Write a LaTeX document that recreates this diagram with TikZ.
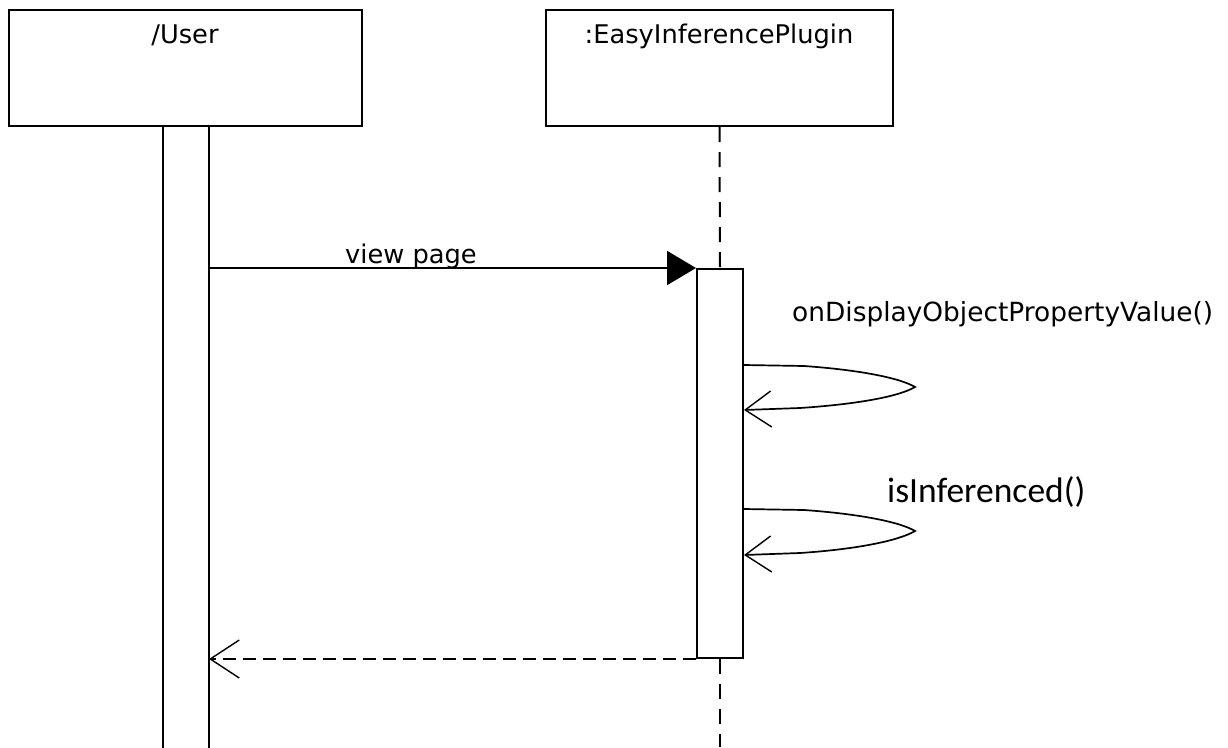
\documentclass[tikz,border=0pt]{standalone}
\usepackage{fontspec}
\setmainfont{DejaVu Sans}
\newfontfamily\calibrifont{Carlito}
\usetikzlibrary{arrows.meta}

\tikzset{
  objbox/.style={draw, line width=2pt, rectangle, inner sep=0pt},
  actbar/.style={draw, line width=2pt, fill=white},
  lifeline/.style={line width=2pt, dash pattern=on 15pt off 10pt},
  callmsg/.style={line width=2pt, -{Triangle[length=29pt,width=34pt]}},
  selfmsg/.style={line width=1.7pt, -{Straight Barb[length=26pt,width=36pt,line width=1.4pt]}},
  replymsg/.style={line width=2pt, dash pattern=on 13pt off 7pt, -{Straight Barb[length=29pt,width=38pt,line width=1.4pt]}},
  objname/.style={anchor=base, inner sep=0pt, font=\fontsize{25.7}{30}\selectfont},
  msglabel/.style={anchor=base west, inner sep=0pt, font=\fontsize{25.7}{30}\selectfont},
}

\begin{document}
\begin{tikzpicture}[x=1pt, y=-1pt]
  \useasboundingbox (0,0) rectangle (1228,747);
  \fill[white] (0,0) rectangle (1228,747);

  % lower edge of the page
  \coordinate (bottom) at (0,747);

  % participant boxes
  \node[objbox, minimum width=353pt, minimum height=116pt] (user) at (185.5,68) {};
  \node[objname] (username) at (185,43) {/User};
  \node[objbox, minimum width=347pt, minimum height=116pt] (plug) at (719.5,68) {};
  \node[objname] (plugname) at (719,43) {:EasyInferencePlugin};

  % lifeline of the plugin
  \coordinate (plugact) at (720,269);
  \draw[lifeline] (plug.south) -- (plugact);

  % activation bars
  \draw[actbar] (163,126) rectangle (209,752);
  \coordinate (userbar) at (209,126);
  \node[draw, line width=2pt, fill=white, inner sep=0pt, minimum width=46pt, minimum height=389pt] (plugbar) at (720,463.5) {};
  \draw[lifeline] (plugbar.south) -- (plugbar.south |- bottom);

  % view page
  \draw[callmsg] (userbar |- plugbar.north west) -- (plugbar.north west);
  \node[msglabel] (viewlbl) at (345,263) {view page};

  % self call: onDisplayObjectPropertyValue()
  \node[msglabel, font=\fontsize{26.4}{30}\selectfont] (displbl) at (792,321) {onDisplayObjectPropertyValue()};
  \draw[selfmsg] ([yshift=-97pt]plugbar.north east)
    -- ++(60,1) .. controls (860,370) and (900,378) .. (915,387)
    .. controls (900,396) and (860,404) .. (800,408)
    -- ([yshift=-142pt]plugbar.north east);

  % self call: isInferenced()
  \node[anchor=base west, inner sep=0pt, font=\calibrifont\fontsize{35.5}{40}\selectfont] (inflbl) at (887,502) {isInferenced()};
  \draw[selfmsg] ([yshift=-241pt]plugbar.north east)
    -- ++(60,1) .. controls (860,514) and (900,522) .. (915,531)
    .. controls (900,540) and (860,549) .. (800,553)
    -- ([yshift=-287pt]plugbar.north east);

  % reply
  \draw[replymsg] (plugbar.south west) -- (userbar |- plugbar.south west);
\end{tikzpicture}
\end{document}
